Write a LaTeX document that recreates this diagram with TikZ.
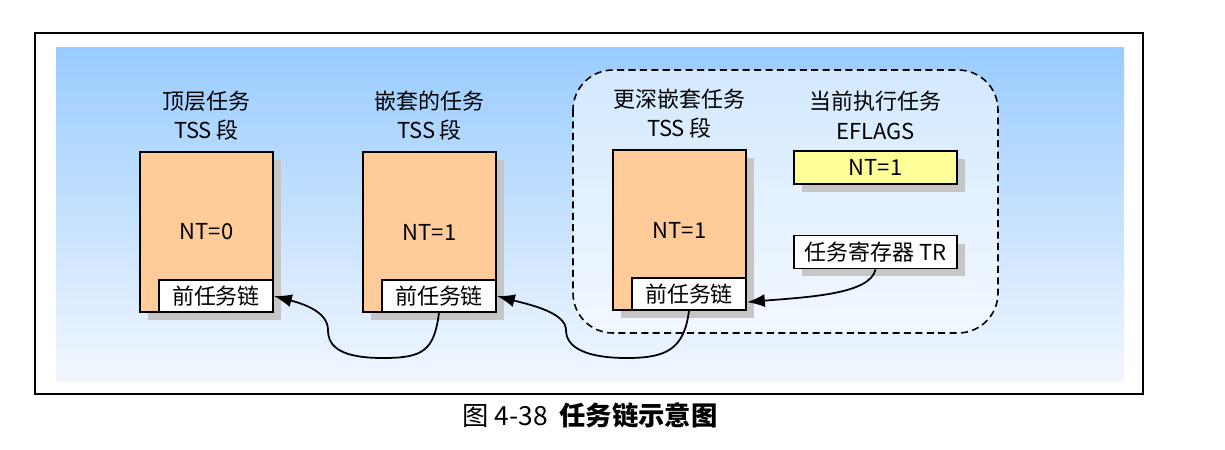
\documentclass[tikz,border=0pt]{standalone}
\usepackage{fontspec}
\setmainfont{Noto Sans CJK SC}
\usepackage{tikz}
\usetikzlibrary{arrows.meta, positioning, shadows}
\definecolor{tssorange}{RGB}{255, 204, 153}
\definecolor{flagyellow}{RGB}{255, 255, 153}
\definecolor{skytop}{RGB}{153, 204, 255}
\definecolor{skybottom}{RGB}{242, 247, 255}

\begin{document}
\begin{tikzpicture}[
    x=0.02cm, y=-0.02cm,
    every node/.style={align=center, font=\fontsize{12.5}{17}\selectfont},
    boxshadow/.style={drop shadow={shadow xshift=0.16cm, shadow yshift=-0.16cm, fill=gray!45, opacity=1}},
    tss/.style={rectangle, draw, line width=1pt, fill=tssorange, minimum width=2.66cm, minimum height=3.2cm, boxshadow},
    link/.style={rectangle, draw, line width=1pt, fill=white, minimum width=2.28cm, minimum height=0.64cm, inner sep=0pt},
    reg/.style={rectangle, draw, line width=1pt, minimum width=3.26cm, minimum height=0.66cm, inner sep=0pt, boxshadow},
    heading/.style={inner sep=0pt},
    arrow/.style={-{Latex[length=3.6mm, width=2.6mm]}, line width=1pt}
]
\useasboundingbox (0,0) rectangle (1225,450);

% Background
\fill[top color=skytop, bottom color=skybottom] (56,47) rectangle (1124,381);
\draw[line width=1.2pt] (35,33) rectangle (1143,394);
\draw[line width=0.9pt, dash pattern=on 4pt off 2.5pt, rounded corners=0.8cm, fill=white, fill opacity=0.55] (573,70) rectangle (998,333);

% Nodes
\node[tss] (top) at (206.5,232) {NT=0};
\node[link, anchor=south east] (toplink) at (top.south east) {前任务链};
\node[heading, above=0.2cm of top] (toptitle) {顶层任务\\TSS 段};

\node[tss] (nest) at (429.5,232) {NT=1};
\node[link, anchor=south east] (nestlink) at (nest.south east) {前任务链};
\node[heading, above=0.2cm of nest] (nesttitle) {嵌套的任务\\TSS 段};

\node[tss] (deep) at (679.5,230) {NT=1};
\node[link, anchor=south east] (deeplink) at (deep.south east) {前任务链};
\node[heading, above=0.2cm of deep] (deeptitle) {更深嵌套任务\\TSS 段};

\node[reg, fill=flagyellow] (eflags) at (875.5,167.5) {NT=1};
\node[heading, above=0.2cm of eflags] (curtitle) {当前执行任务\\EFLAGS};
\node[reg, fill=white] (tr) at (875.5,252) {任务寄存器 TR};

\node[font=\fontsize{15}{18}\selectfont] (caption) at (590,415) {图 4-38\ \ \textbf{任务链示意图}};

% Connections
\draw[arrow] (tr.south) .. controls +(-5,25) and +(60,-5) .. (deeplink.-8);
\draw[arrow] (deeplink.south) .. controls +(-5,38) and +(40,0) .. (627,358)
    .. controls +(-40,0) and +(0,18) .. (566,330)
    .. controls +(0,-18) and +(30,8) .. (nestlink.east);
\draw[arrow] (nestlink.south) .. controls +(-5,38) and +(40,0) .. (383,358)
    .. controls +(-40,0) and +(0,18) .. (328,330)
    .. controls +(0,-18) and +(30,8) .. (toplink.east);

\end{tikzpicture}
\end{document}
